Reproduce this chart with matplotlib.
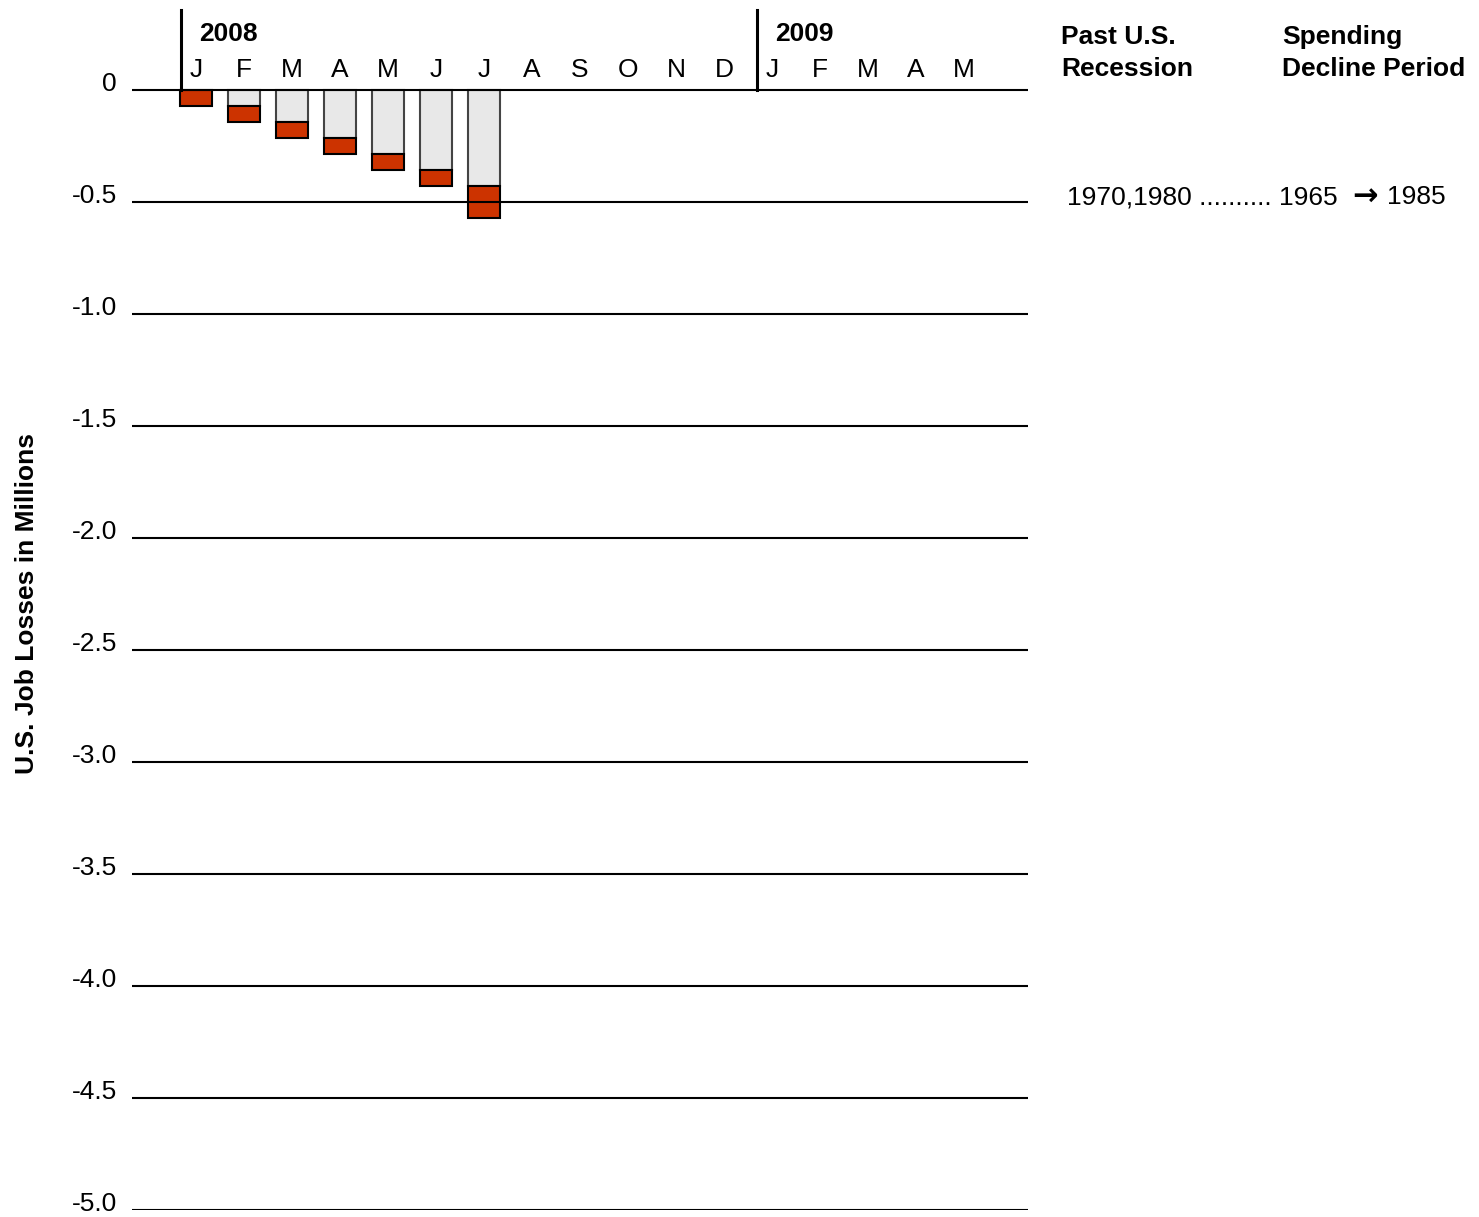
"""Cumulative U.S. job losses, 2008-2009."""

import matplotlib
matplotlib.use("Agg")
import matplotlib.pyplot as plt
import numpy as np

plt.rcParams["font.family"] = ["Liberation Sans", "DejaVu Sans"]

months = ["J", "F", "M", "A", "M", "J", "J", "A", "S", "O", "N", "D",
          "J", "F", "M", "A", "M"]
years = ["2008", "2009"]
year_start_idx = [0, 12]
# monthly job losses in millions (Jan-Jul 2008)
monthly_losses = [0.071, 0.072, 0.071, 0.072, 0.071, 0.072, 0.142]
y_ticks = [0, -0.5, -1.0, -1.5, -2.0, -2.5, -3.0, -3.5, -4.0, -4.5, -5.0]
y_tick_labels = ["0", "-0.5", "-1.0", "-1.5", "-2.0", "-2.5", "-3.0",
                 "-3.5", "-4.0", "-4.5", "-5.0"]

FS = 19
W, H = 1479, 1217
fig = plt.figure(figsize=(W / 100, H / 100), dpi=100)
ax = fig.add_axes([132 / W, 7 / H, (1028 - 132) / W, 1200 / H])
ax.set_xlim(-1.333, 17.333)
ax.set_ylim(-5.0, 0.357)
ax.axis("off")

cum = np.cumsum(monthly_losses)
prev = np.concatenate([[0], cum[:-1]])
x = np.arange(len(monthly_losses))
ax.bar(x[1:], -prev[1:], width=0.667, bottom=0, color="#e8e8e8",
       edgecolor="#444444", linewidth=1.5, zorder=2)
ax.bar(x, -np.array(monthly_losses), width=0.667, bottom=-prev,
       color="#cc3300", edgecolor="black", linewidth=1.5, zorder=3)

for t, lab in zip(y_ticks, y_tick_labels):
    ax.axhline(t, color="black", linewidth=1.5, zorder=4)
    ax.text(-1.65, t + 0.025, lab, ha="right", va="center", fontsize=FS)

for i, m in enumerate(months):
    ax.text(i, 0.088, m, ha="center", va="center", fontsize=FS)

for yr, idx in zip(years, year_start_idx):
    ax.plot([idx - 0.32, idx - 0.32], [0, 0.357], color="black",
            linewidth=2.2, clip_on=False, zorder=4)
    ax.text(idx + 0.06, 0.25, yr, ha="left", va="center", fontsize=FS,
            fontweight="bold")

fig.text(27 / W, 1 - 604 / H, "U.S. Job Losses in Millions", rotation=90,
         ha="center", va="center", fontsize=FS, fontweight="bold")

fig.text(1061 / W, 1 - 37 / H, "Past U.S.", ha="left", va="center",
         fontsize=FS, fontweight="bold")
fig.text(1061 / W, 1 - 69 / H, "Recession", ha="left", va="center",
         fontsize=FS, fontweight="bold")
fig.text(1282 / W, 1 - 37 / H, "Spending", ha="left", va="center",
         fontsize=FS, fontweight="bold")
fig.text(1282 / W, 1 - 69 / H, "Decline Period", ha="left", va="center",
         fontsize=FS, fontweight="bold")
fig.text(1067 / W, 1 - 197 / H, "1970,1980 .......... 1965",
         ha="left", va="center", fontsize=FS)
fig.text(1352 / W, 1 - 206 / H, "\u2192", ha="left", va="baseline",
         fontsize=22, fontweight="bold", family=["DejaVu Sans"])
fig.text(1387 / W, 1 - 197 / H, "1985", ha="left", va="center", fontsize=FS)

fig.savefig("out.png", dpi=100)
plt.close(fig)
